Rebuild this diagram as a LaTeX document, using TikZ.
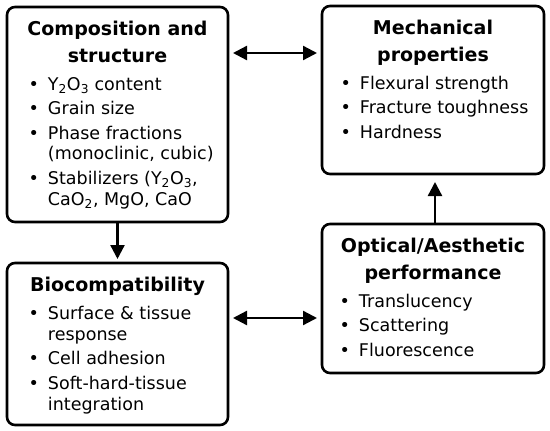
\documentclass[tikz,border=0pt]{standalone}
\usepackage{fontspec}
\setmainfont{DejaVu Sans}
\usetikzlibrary{arrows.meta,positioning}

\newlength{\bulletind}
\newcommand{\cardtitle}[1]{{\centering\fontsize{19}{27}\selectfont\bfseries\rule{0pt}{28pt}#1\par}\vspace{3.5pt}}
\newcommand{\bitem}[1]{\par\vspace{3.5pt}\hangindent=\bulletind\hangafter=1\noindent\makebox[\bulletind][r]{\textbullet\hspace{9pt}}#1}
\newcommand{\cardbody}[4]{\parbox[c][#1][t]{#2}{\setlength{\bulletind}{#3}\fontsize{17.5}{21}\selectfont #4}}

\begin{document}
\begin{tikzpicture}[
    x=1pt, y=-1pt,
    card/.style={draw, line width=2.6pt, rounded corners=8pt, inner sep=0pt, outer sep=0pt, anchor=north west},
    link/.style={-{Triangle[length=14pt,width=14pt]}, line width=2.3pt},
    dlink/.style={{Triangle[length=14pt,width=14pt]}-{Triangle[length=14pt,width=14pt]}, line width=2.3pt, shorten <=5pt, shorten >=5pt}
]
\useasboundingbox (0,0) rectangle (550,431);

% Composition
\node[card] (comp) at (7,7) {\cardbody{215pt}{221pt}{41pt}{%
  \cardtitle{Composition and\\structure}%
  \bitem{Y\textsubscript{2}O\textsubscript{3} content}%
  \bitem{Grain size}%
  \bitem{Phase fractions\\(monoclinic, cubic)}%
  \bitem{Stabilizers (Y\textsubscript{2}O\textsubscript{3},\\CaO\textsubscript{2}, MgO, CaO}}};

% Mechanical
\node[card, right=94pt of comp.north east, anchor=north west, yshift=1pt] (mech) {\cardbody{168pt}{222pt}{38pt}{%
  \cardtitle{Mechanical\\properties}%
  \bitem{Flexural strength}%
  \bitem{Fracture toughness}%
  \bitem{Hardness}}};

% Biocompatibility
\node[card, below=41pt of comp, anchor=north] (bio) {\cardbody{162pt}{221pt}{41pt}{%
  \cardtitle{Biocompatibility}%
  \bitem{Surface \& tissue\\response}%
  \bitem{Cell adhesion}%
  \bitem{Soft-hard-tissue\\integration}}};

% Optical
\node[card, below=50pt of mech, anchor=north] (opt) {\cardbody{149pt}{222pt}{37pt}{%
  \cardtitle{Optical/Aesthetic\\performance}%
  \bitem{Translucency}%
  \bitem{Scattering}%
  \bitem{Fluorescence}}};

% Arrows
\draw[dlink] ([yshift=-46pt]comp.north east) coordinate (t1) -- (t1 -| mech.west);
\draw[dlink] ([yshift=-55pt]bio.north east) coordinate (t2) -- (t2 -| opt.west);
\draw[link, shorten >=4pt] (comp.south) -- (bio.north);
\draw[link, shorten >=8pt] ([xshift=2pt]opt.north) -- ([xshift=2pt]mech.south);

\end{tikzpicture}
\end{document}
